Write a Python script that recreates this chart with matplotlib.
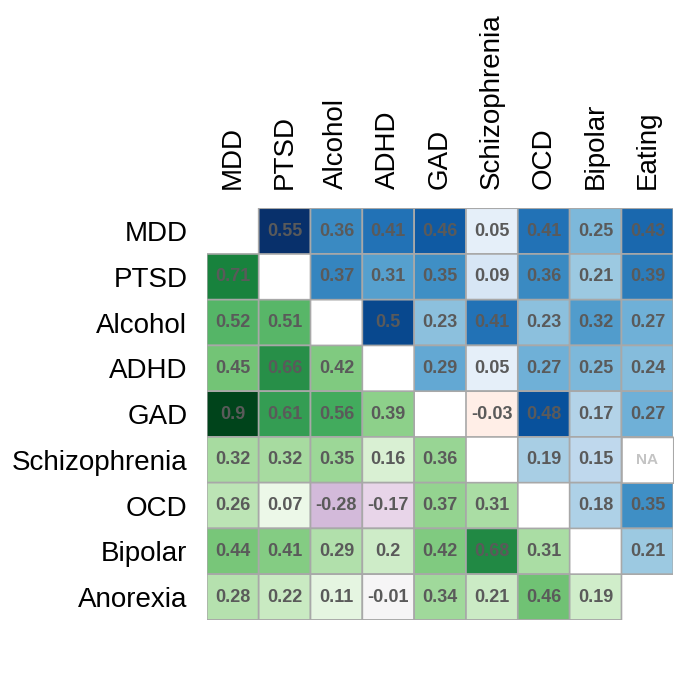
import numpy as np
import matplotlib
matplotlib.use("Agg")
import matplotlib.pyplot as plt
from matplotlib.colors import ListedColormap, TwoSlopeNorm

plt.rcParams['font.family'] = ['Liberation Sans', 'DejaVu Sans']

# labels
rows = ["MDD", "PTSD", "Alcohol", "ADHD", "GAD", "Schizophrenia", "OCD", "Bipolar", "Anorexia"]
cols = ["MDD", "PTSD", "Alcohol", "ADHD", "GAD", "Schizophrenia", "OCD", "Bipolar", "Eating"]

# upper triangle (blue), row by row, columns to the right of the diagonal
upper = [
    [0.55, 0.36, 0.41, 0.46, 0.05, 0.41, 0.25, 0.43],
    [0.37, 0.31, 0.35, 0.09, 0.36, 0.21, 0.39],
    [0.5, 0.23, 0.41, 0.23, 0.32, 0.27],
    [0.29, 0.05, 0.27, 0.25, 0.24],
    [-0.03, 0.48, 0.17, 0.27],
    [0.19, 0.15, None],   # None = NA
    [0.18, 0.35],
    [0.21],
]
# lower triangle (green), row by row, columns left of the diagonal
lower = [
    [],
    [0.71],
    [0.52, 0.51],
    [0.45, 0.66, 0.42],
    [0.9, 0.61, 0.56, 0.39],
    [0.32, 0.32, 0.35, 0.16, 0.36],
    [0.26, 0.07, -0.28, -0.17, 0.37, 0.31],
    [0.44, 0.41, 0.29, 0.2, 0.42, 0.68, 0.31],
    [0.28, 0.22, 0.11, -0.01, 0.34, 0.21, 0.46, 0.19],
]

n = len(rows)
up = np.full((n, n), np.nan)
lo = np.full((n, n), np.nan)
na = np.full((n, n), np.nan)
for i, r in enumerate(upper):
    for k, v in enumerate(r):
        j = i + 1 + k
        if v is None:
            na[i, j] = 0
        else:
            up[i, j] = v
for i, r in enumerate(lower):
    for j, v in enumerate(r):
        lo[i, j] = v


def split_cmap(neg, pos):
    a = neg(np.linspace(0, 1, 256))
    b = pos(np.linspace(0, 1, 256))
    return ListedColormap(np.vstack([a, b]))


cm_up = split_cmap(ListedColormap(plt.cm.Reds(np.linspace(0.8, 0, 256))), plt.cm.Blues)
cm_lo = split_cmap(ListedColormap(plt.cm.PRGn(np.linspace(0, 0.5, 256))), plt.cm.Greens)

fig = plt.figure(figsize=(6.76, 6.76), dpi=100)
ax = fig.add_axes([0.306, 0.083, 0.69, 0.609])

# pcolor skips masked cells, so the diagonal stays blank
edge = dict(edgecolors="#a8a8a8", linewidth=1.2)
ax.pcolor(np.ma.masked_invalid(up), cmap=cm_up,
          norm=TwoSlopeNorm(0, -0.55, 0.55), **edge)
ax.pcolor(np.ma.masked_invalid(lo), cmap=cm_lo,
          norm=TwoSlopeNorm(0, -0.9, 0.9), **edge)
ax.pcolor(np.ma.masked_invalid(na), cmap=ListedColormap(["white"]), **edge)

for i in range(n):
    for j in range(n):
        v = up[i, j] if not np.isnan(up[i, j]) else lo[i, j]
        if not np.isnan(v):
            ax.text(j + 0.5, i + 0.5, f"{v:g}", ha="center", va="center",
                    fontsize=13, fontweight="bold", color="#5a5a5a")
        elif not np.isnan(na[i, j]):
            ax.text(j + 0.5, i + 0.5, "NA", ha="center", va="center",
                    fontsize=11, fontweight="bold", color="#c4c4c4")

ax.set_xlim(0, n)
ax.set_ylim(n, 0)
ax.xaxis.tick_top()
ax.set_xticks(np.arange(n) + 0.5)
ax.set_xticklabels(cols, rotation=90, fontsize=20)
ax.set_yticks(np.arange(n) + 0.5)
ax.set_yticklabels(rows, fontsize=20)
ax.tick_params(length=0, pad=14)
for s in ax.spines.values():
    s.set_visible(False)

fig.savefig("out.png", dpi=100)
